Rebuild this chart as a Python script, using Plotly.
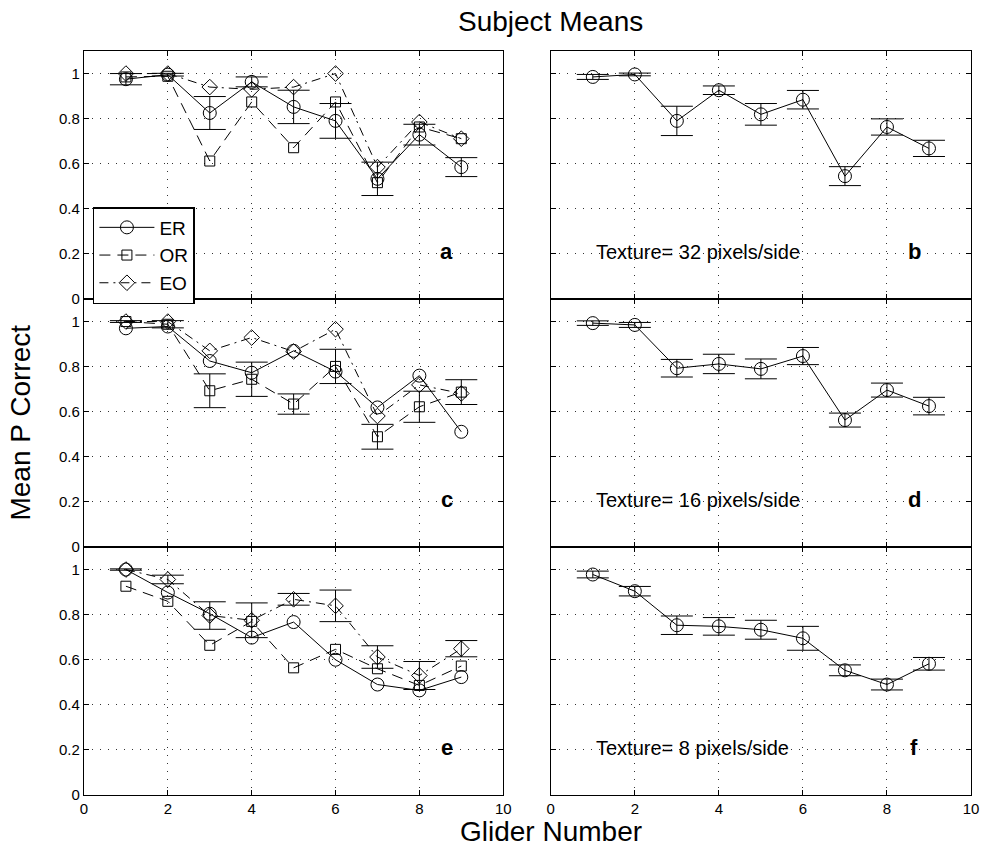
import plotly.graph_objects as go

glider = [1, 2, 3, 4, 5, 6, 7, 8, 9]

# Panel a (32 px texture, per-condition)
a_er = [0.975, 0.995, 0.825, 0.963, 0.852, 0.790, 0.533, 0.729, 0.585]
a_er_err = [0.025, 0.006, 0.073, 0.022, 0.074, 0.077, 0.074, 0.046, 0.042]
a_or = [0.985, 0.988, 0.612, 0.874, 0.671, 0.874, 0.516, 0.763, 0.711]
a_eo = [1.000, 1.000, 0.940, 0.930, 0.940, 1.000, 0.585, 0.785, 0.711]

# Panel b (32 px texture, mean)
b_mean = [0.985, 0.996, 0.790, 0.926, 0.819, 0.884, 0.545, 0.763, 0.668]
b_err = [0.011, 0.006, 0.065, 0.019, 0.048, 0.041, 0.042, 0.036, 0.036]

# Panel c (16 px texture, per-condition)
c_er = [0.970, 0.978, 0.825, 0.773, 0.870, 0.778, 0.619, 0.760, 0.511]
c_or = [1.000, 0.988, 0.693, 0.744, 0.634, 0.801, 0.489, 0.622, 0.687]
c_or_err = [0.004, 0.016, 0.075, 0.076, 0.045, 0.076, 0.055, 0.069, 0.055]
c_eo = [1.000, 1.000, 0.870, 0.929, 0.867, 0.966, 0.581, 0.719, 0.681]

# Panel d (16 px texture, mean)
d_mean = [0.993, 0.985, 0.793, 0.812, 0.790, 0.847, 0.563, 0.696, 0.625]
d_err = [0.010, 0.011, 0.039, 0.043, 0.044, 0.038, 0.031, 0.031, 0.039]

# Panel e (8 px texture, per-condition)
e_er = [1.000, 0.898, 0.804, 0.698, 0.767, 0.600, 0.490, 0.464, 0.523]
e_or = [0.926, 0.859, 0.664, 0.770, 0.564, 0.646, 0.560, 0.486, 0.572]
e_eo = [1.000, 0.956, 0.796, 0.775, 0.868, 0.839, 0.612, 0.530, 0.649]
e_eo_err = [0.003, 0.019, 0.061, 0.077, 0.026, 0.070, 0.050, 0.062, 0.036]

# Panel f (8 px texture, mean)
f_mean = [0.978, 0.904, 0.753, 0.748, 0.733, 0.695, 0.553, 0.490, 0.582]
f_err = [0.015, 0.021, 0.041, 0.039, 0.042, 0.053, 0.024, 0.024, 0.028]

x_ticks = [0, 2, 4, 6, 8, 10]
y_ticks = [0, 0.2, 0.4, 0.6, 0.8, 1.0]
y_tick_text = ["0", "0.2", "0.4", "0.6", "0.8", "1"]
panel_letters = ["a", "b", "c", "d", "e", "f"]
texture_labels = {"b": "Texture= 32 pixels/side", "d": "Texture= 16 pixels/side",
                  "f": "Texture= 8 pixels/side"}

FONT = "Liberation Sans, Arial, Helvetica, sans-serif"
DASH_OR = "11px,7px"
DASH_EO = "9px,5px,2px,5px"

fig = go.Figure()


def err(arr):
    return dict(type="data", array=arr, color="black", thickness=1, width=16)


def add_cond(ax, er, orr, eo, err_series, show):
    xa = "x" if ax == 1 else f"x{ax}"
    ya = "y" if ax == 1 else f"y{ax}"
    common = dict(x=glider, xaxis=xa, yaxis=ya, mode="lines+markers")
    fig.add_trace(go.Scatter(y=er, name="ER", legendgroup="ER", showlegend=show,
                             line=dict(color="black", width=1),
                             marker=dict(symbol="circle-open", size=13, color="black",
                                         line=dict(width=1)),
                             error_y=err(err_series[1]) if err_series[0] == "ER" else None,
                             **common))
    fig.add_trace(go.Scatter(y=orr, name="OR", legendgroup="OR", showlegend=show,
                             line=dict(color="black", width=1, dash=DASH_OR),
                             marker=dict(symbol="square-open", size=10, color="black",
                                         line=dict(width=1)),
                             error_y=err(err_series[1]) if err_series[0] == "OR" else None,
                             **common))
    fig.add_trace(go.Scatter(y=eo, name="EO", legendgroup="EO", showlegend=show,
                             line=dict(color="black", width=1, dash=DASH_EO),
                             marker=dict(symbol="diamond-open", size=12, color="black",
                                         line=dict(width=1)),
                             error_y=err(err_series[1]) if err_series[0] == "EO" else None,
                             **common))


def add_mean(ax, mean, e):
    fig.add_trace(go.Scatter(x=glider, y=mean, xaxis=f"x{ax}", yaxis=f"y{ax}",
                             mode="lines+markers", showlegend=False,
                             line=dict(color="black", width=1),
                             marker=dict(symbol="circle-open", size=13, color="black",
                                         line=dict(width=1)),
                             error_y=err(e)))


add_cond(1, a_er, a_or, a_eo, ("ER", a_er_err), True)
add_mean(2, b_mean, b_err)
add_cond(3, c_er, c_or, c_eo, ("OR", c_or_err), False)
add_mean(4, d_mean, d_err)
add_cond(5, e_er, e_or, e_eo, ("EO", e_eo_err), False)
add_mean(6, f_mean, f_err)

x_dom = {"L": [0.0, 423 / 895], "R": [471 / 895, 1.0]}
y_dom = {0: [2 / 3, 1.0], 1: [1 / 3, 2 / 3], 2: [0.0, 1 / 3]}

layout = {}
for i in range(6):
    n = i + 1
    row = i // 2
    side = "L" if i % 2 == 0 else "R"
    xkey = "xaxis" if n == 1 else f"xaxis{n}"
    ykey = "yaxis" if n == 1 else f"yaxis{n}"
    ya_name = "y" if n == 1 else f"y{n}"
    xa_name = "x" if n == 1 else f"x{n}"
    layout[xkey] = dict(domain=x_dom[side], anchor=ya_name, range=[0, 10],
                        tickvals=x_ticks, showticklabels=(row == 2),
                        ticks="inside", ticklen=5, tickcolor="black",
                        showline=True, linecolor="black", linewidth=1.2, mirror="ticks",
                        showgrid=True, gridcolor="#333", gridwidth=1, griddash="1px,7px",
                        zeroline=False, tickfont=dict(size=15, color="black"))
    layout[ykey] = dict(domain=y_dom[row], anchor=xa_name, range=[0, 1.1],
                        tickvals=y_ticks, ticktext=y_tick_text,
                        showticklabels=(side == "L"),
                        ticks="inside", ticklen=5, tickcolor="black",
                        showline=True, linecolor="black", linewidth=1.2, mirror="ticks",
                        showgrid=True, gridcolor="#333", gridwidth=1, griddash="1px,7px",
                        zeroline=False, tickfont=dict(size=15, color="black"))

annotations = []
for i, letter in enumerate(panel_letters):
    n = i + 1
    xa_name = "x" if n == 1 else f"x{n}"
    ya_name = "y" if n == 1 else f"y{n}"
    annotations.append(dict(x=8.65, y=0.21, xref=xa_name, yref=ya_name, text=f"<b>{letter}</b>",
                            showarrow=False, xanchor="center", yanchor="middle",
                            font=dict(size=22, color="black")))
    if letter in texture_labels:
        annotations.append(dict(x=1.03, y=0.21, xref=xa_name, yref=ya_name,
                                text=texture_labels[letter], showarrow=False,
                                xanchor="left", yanchor="middle",
                                font=dict(size=20, color="black")))

annotations.append(dict(x=471 / 895, y=1 + 29 / 744, xref="paper", yref="paper",
                        text="Subject Means", showarrow=False, xanchor="center",
                        yanchor="middle", font=dict(size=28, color="black")))
annotations.append(dict(x=471 / 895, y=-36 / 744, xref="paper", yref="paper",
                        text="Glider Number", showarrow=False, xanchor="center",
                        yanchor="middle", font=dict(size=28, color="black")))
annotations.append(dict(x=-65 / 895, y=0.5, xref="paper", yref="paper", text="Mean P Correct",
                        showarrow=False, xanchor="center", yanchor="middle", textangle=-90,
                        font=dict(size=28, color="black")))

fig.update_layout(
    width=991, height=854,
    margin=dict(l=84, r=12, t=51, b=59),
    paper_bgcolor="white", plot_bgcolor="white",
    font=dict(family=FONT, color="black"),
    annotations=annotations,
    legend=dict(x=9 / 895, y=(795 - 207) / 744, xanchor="left", yanchor="top",
                bgcolor="white", bordercolor="black", borderwidth=1.5,
                font=dict(size=19, color="black"), tracegroupgap=0,
                itemwidth=55),
    **layout,
)

fig.write_html("out.html")
